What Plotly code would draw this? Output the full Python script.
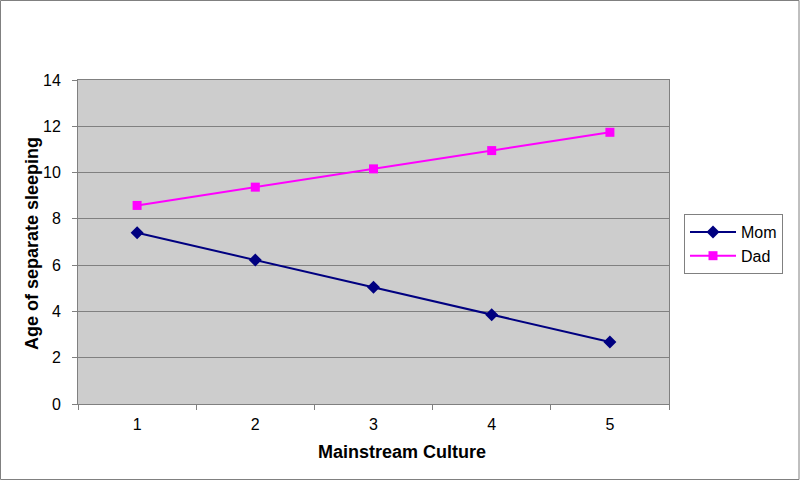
import plotly.graph_objects as go

categories = ["1", "2", "3", "4", "5"]
mom = [7.4, 6.22, 5.04, 3.86, 2.68]
dad = [8.58, 9.37, 10.16, 10.95, 11.74]
y_ticks = [0, 2, 4, 6, 8, 10, 12, 14]

L, R, T, B = 78, 131, 80, 76
W, H = 800, 480
pw, ph = W - L - R, H - T - B

fig = go.Figure()
fig.add_trace(go.Scatter(x=categories, y=mom, name="Mom", mode="lines+markers",
                         line=dict(color="#000080", width=2),
                         marker=dict(symbol="diamond", size=10, color="#000080")))
fig.add_trace(go.Scatter(x=categories, y=dad, name="Dad", mode="lines+markers",
                         line=dict(color="#FF00FF", width=2),
                         marker=dict(symbol="square", size=9, color="#FF00FF")))

fig.update_layout(
    width=W, height=H,
    margin=dict(l=L, r=R, t=T, b=B),
    paper_bgcolor="white",
    plot_bgcolor="#CDCDCD",
    font=dict(family="Liberation Sans, Arial", size=16, color="black"),
    showlegend=True,
    legend=dict(x=(684 - L) / pw, y=(404 - 214) / ph, xanchor="left", yanchor="top",
                bordercolor="#808080", borderwidth=1, bgcolor="white",
                font=dict(size=16), tracegroupgap=0, itemwidth=46),
    xaxis=dict(type="category", range=[-0.5, 4.5], tickson="boundaries",
               ticks="outside", ticklen=5, tickcolor="#808080",
               tickfont=dict(size=16), ticklabelstandoff=6,
               showgrid=False, showline=True, linecolor="#808080", linewidth=1, mirror=True,
               zeroline=False),
    yaxis=dict(range=[0, 14], tickvals=y_ticks, ticks="outside", ticklen=5, tickcolor="#808080",
               tickfont=dict(size=16), ticklabelstandoff=8,
               showgrid=True, gridcolor="#808080", gridwidth=1,
               showline=True, linecolor="#808080", linewidth=1, mirror=True,
               zeroline=False),
)

fig.add_annotation(text="<b>Age of separate sleeping</b>", textangle=-90,
                   xref="paper", yref="paper", x=(32 - L) / pw, y=(404 - 244) / ph,
                   xanchor="center", yanchor="middle", showarrow=False,
                   font=dict(size=18))
fig.add_annotation(text="<b>Mainstream Culture</b>",
                   xref="paper", yref="paper", x=(402 - L) / pw, y=(404 - 452) / ph,
                   xanchor="center", yanchor="middle", showarrow=False,
                   font=dict(size=18))

fig.add_shape(type="rect", xref="paper", yref="paper",
              x0=-L / pw + 0.5 / pw, x1=1 + (R - 1) / pw,
              y0=-B / ph + 0.5 / ph, y1=1 + (T - 0.5) / ph,
              line=dict(color="#808080", width=1), layer="below")

fig.write_html("out.html", config={"displayModeBar": False},
               post_script="document.body.style.margin='0';document.body.style.overflow='hidden';")
